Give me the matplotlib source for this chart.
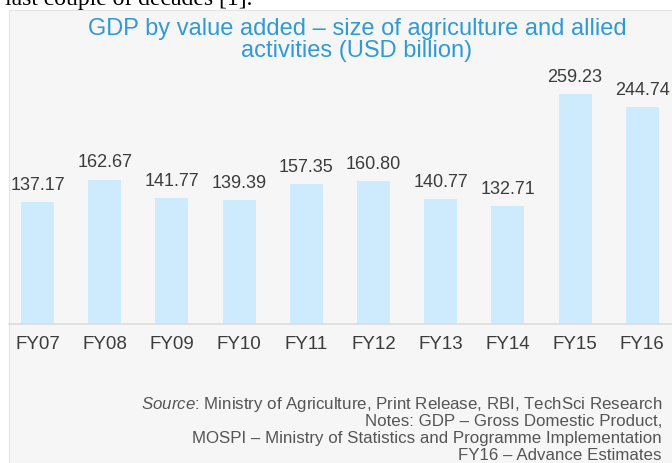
import matplotlib

matplotlib.use("Agg")
import matplotlib.pyplot as plt
from matplotlib.patches import Rectangle

years = ["FY07", "FY08", "FY09", "FY10", "FY11", "FY12", "FY13", "FY14", "FY15", "FY16"]
values = [137.17, 162.67, 141.77, 139.39, 157.35, 160.80, 140.77, 132.71, 259.23, 244.74]

title = "GDP by value added \u2013 size of agriculture and allied\nactivities (USD billion)"
source = r"$\it{Source}$: Ministry of Agriculture, Print Release, RBI, TechSci Research"
notes = [
    "Notes: GDP \u2013 Gross Domestic Product,",
    "MOSPI \u2013 Ministry of Statistics and Programme Implementation",
    "FY16 \u2013 Advance Estimates",
]

W, H = 672, 463
BAR = "#cdebfc"
INK = "#3c3c3c"
BLUE = "#2f9ad6"

plt.rcParams["font.family"] = ["Liberation Sans", "DejaVu Sans"]
plt.rcParams["mathtext.fontset"] = "custom"
plt.rcParams["mathtext.it"] = "Liberation Sans:italic"
plt.rcParams["mathtext.rm"] = "Liberation Sans"

fig = plt.figure(figsize=(W / 100, H / 100), dpi=100, facecolor="white")

# grey panel behind the chart, like the screenshot
fig.patches.append(Rectangle((9 / W, 0), 1, (H - 10) / H, transform=fig.transFigure,
                             facecolor="#f6f6f6", edgecolor="#e4e4e4", linewidth=0.8, zorder=0))

# cut-off line of body text above the panel
fig.text(5 / W, 1 - 5 / H, "last couple of decades [1].", family="Liberation Serif",
         fontsize=17, color="black", va="baseline", ha="left")

top_px, base_px = 10, 323.5
ax = fig.add_axes([0, (H - base_px) / H, 1, (base_px - top_px) / H], zorder=2)
ax.set_facecolor("none")
ax.bar(range(len(years)), values, width=0.49, color=BAR, zorder=2)
ax.set_xlim(-0.558, 9.442)
ax.set_ylim(0, (base_px - top_px) / 0.884)

for i, v in enumerate(values):
    ax.annotate(f"{v:.2f}", (i, v), textcoords="offset points", xytext=(0, 6),
                ha="center", va="bottom", fontsize=13, color=INK)

ax.set_xticks(range(len(years)))
ax.set_xticklabels(years, fontsize=13.5, color=INK)
ax.tick_params(axis="x", length=0, pad=9)
ax.set_yticks([])
for s in ("top", "right", "left"):
    ax.spines[s].set_visible(False)
ax.spines["bottom"].set_bounds(-0.42, 9.442)
ax.spines["bottom"].set_color("#dcdcdc")
ax.spines["bottom"].set_linewidth(1.2)

fig.text(357 / W, 1 - 40 / H, title, ha="center", va="center", fontsize=17,
         color=BLUE, linespacing=0.97)

x_r = 662 / W
fig.text(x_r, 1 - 405 / H, source, ha="right", va="center", fontsize=12.2, color="#555555")
for k, line in enumerate(notes):
    fig.text(x_r, 1 - (422 + 17 * k) / H, line, ha="right", va="center",
             fontsize=12.2, color="#555555")

fig.savefig("out.png", dpi=100)
